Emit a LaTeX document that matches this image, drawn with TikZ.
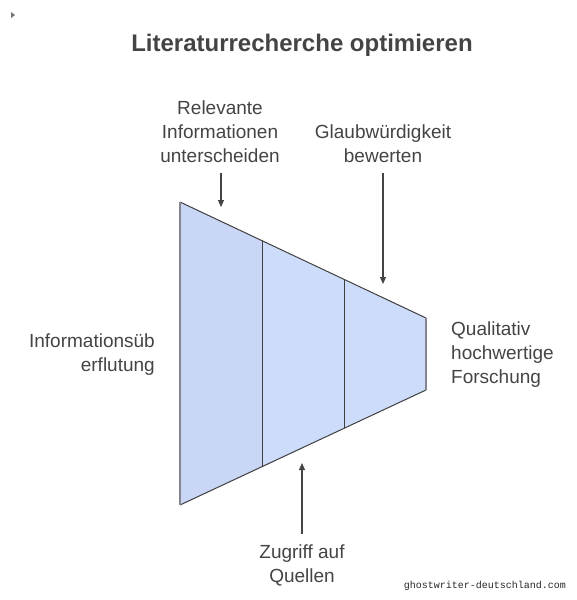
\documentclass[tikz,border=0pt]{standalone}
\usepackage{fontspec}
\setmainfont{Liberation Sans}
\newfontfamily\sitefont{Liberation Mono}
\usetikzlibrary{arrows.meta}
\definecolor{textgrey}{HTML}{444444}
\definecolor{edgedark}{HTML}{3F3F3F}
\definecolor{edgegrey}{HTML}{85858F}
\definecolor{funnelblue}{HTML}{CDDCFB}
\definecolor{funnelleft}{HTML}{C9D6F6}

\begin{document}
\begin{tikzpicture}[x=1pt, y=-1pt,
    label/.style={text=textgrey, font=\fontsize{19}{24}\selectfont, inner sep=0pt},
    title/.style={text=textgrey, font=\fontsize{24}{28}\selectfont\bfseries},
    arrow/.style={-{Triangle[length=7pt,width=6pt]}, draw=textgrey, fill=textgrey, line width=1.2pt},
    part/.style={draw=edgedark, line width=1pt}
]
\useasboundingbox (0,0) rectangle (577,600);

% Title
\node[title] (head) at (302,45) {Literaturrecherche optimieren};
\fill[black!55] (11,12) -- (15,15) -- (11,18) -- cycle;

% Funnel corners
\coordinate (tl) at (180,202); \coordinate (bl) at (180,505);
\coordinate (t1) at (262,241); \coordinate (b1) at (262,467);
\coordinate (t2) at (344,280); \coordinate (b2) at (344,428);
\coordinate (tr) at (426,318); \coordinate (br) at (426,390);

% Funnel sections
\fill[funnelleft] (tl) -- (t1) -- (b1) -- (bl) -- cycle;
\fill[funnelblue] (t1) -- (t2) -- (b2) -- (b1) -- cycle;
\fill[funnelblue] (t2) -- (tr) -- (br) -- (b2) -- cycle;
\draw[part] (tl) -- (tr);
\draw[part] (bl) -- (br);
\draw[part] (t1) -- (b1);
\draw[part] (t2) -- (b2);
\draw[edgegrey, line width=1.5pt] (tl) -- (bl);
\draw[edgegrey, line width=1.5pt] (tr) -- (br);

% Labels
\node[label, align=center] (relevant) at (220,132) {Relevante\\Informationen\\unterscheiden};
\node[label, align=center] (credible) at (383,144) {Glaubwürdigkeit\\bewerten};
\node[label, align=right, anchor=east] (overload) at (155,355) {Informationsüb\\erflutung};
\node[label, align=left, anchor=west] (quality) at (451,355) {Qualitativ\\hochwertige\\Forschung};
\node[label, align=center] (access) at (302,565) {Zugriff auf\\Quellen};

% Arrows
\coordinate (tipA) at (221,207);
\coordinate (tipB) at (383,284);
\coordinate (tipC) at (302,463);
\draw[arrow] ([yshift=-10pt]relevant.south -| tipA) -- (tipA);
\draw[arrow] ([yshift=-10pt]credible.south -| tipB) -- (tipB);
\draw[arrow] ([yshift=10pt]access.north -| tipC) -- (tipC);

% Watermark
\node[font=\sitefont\fontsize{10}{12}\selectfont, text=black!85] (site) at (485,586) {ghostwriter-deutschland.com};

\end{tikzpicture}
\end{document}
